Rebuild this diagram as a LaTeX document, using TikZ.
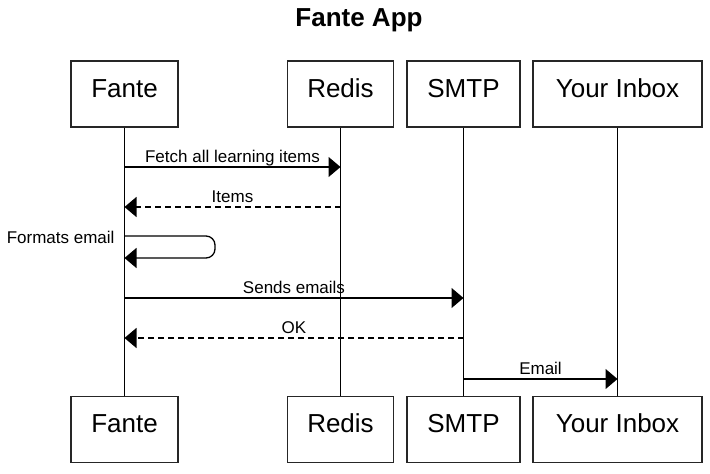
\documentclass[tikz,border=0pt]{standalone}
\usepackage{fontspec}
\setmainfont{Liberation Sans}
\usetikzlibrary{arrows.meta}

\begin{document}
\begin{tikzpicture}[x=1pt,y=-1pt,
        actor/.style={draw=black!85, line width=1.3pt, minimum height=66pt, inner sep=0pt,
            font=\fontsize{26}{30}\selectfont, text height=0.6em, text depth=0pt},
        life/.style={line width=1.3pt},
        msg/.style={line width=1.3pt, -{Triangle[length=12pt,width=20pt]}},
        reply/.style={msg, dash pattern=on 6pt off 4pt},
        lbl/.style={anchor=base, yshift=5pt, font=\fontsize{17}{20}\selectfont}]
        \useasboundingbox (0,0) rectangle (710,474);
        \node[anchor=base, font=\bfseries\fontsize{26}{30}\selectfont](title) at (359,26.5) {Fante App};
        % top row
        \node[actor, minimum width=107pt](F) at (124.5,94) {Fante};
        \node[actor, minimum width=106pt](R) at (340.5,94) {Redis};
        \node[actor, minimum width=113pt](S) at (463.5,94) {SMTP};
        \node[actor, minimum width=169pt](I) at (617.5,94) {Your Inbox};
        % bottom row
        \node[actor, minimum width=107pt](Fb) at (124.5,429.5) {Fante};
        \node[actor, minimum width=106pt](Rb) at (340.5,429.5) {Redis};
        \node[actor, minimum width=113pt](Sb) at (463.5,429.5) {SMTP};
        \node[actor, minimum width=169pt](Ib) at (617.5,429.5) {Your Inbox};
        % lifelines
        \draw[life] (F) -- (Fb);
        \draw[life] (R) -- (Rb);
        \draw[life] (S) -- (Sb);
        \draw[life] (I) -- (Ib);
        % messages
        \draw[msg]   (F |- 0,167) -- node[lbl] {Fetch all learning items} (R |- 0,167);
        \draw[reply] (R |- 0,207) -- node[lbl] {Items} (F |- 0,207);
        \draw[msg, rounded corners=9pt] (F |- 0,236) -- (215,236) -- (215,258) -- (F |- 0,258);
        \node[anchor=base east, font=\fontsize{17}{20}\selectfont](fmt) at (118,243) {Formats email};
        \draw[msg]   (F |- 0,298) -- node[lbl] {Sends emails} (S |- 0,298);
        \draw[reply] (S |- 0,338) -- node[lbl] {OK} (F |- 0,338);
        \draw[msg]   (S |- 0,379) -- node[lbl] {Email} (I |- 0,379);
\end{tikzpicture}
\end{document}
